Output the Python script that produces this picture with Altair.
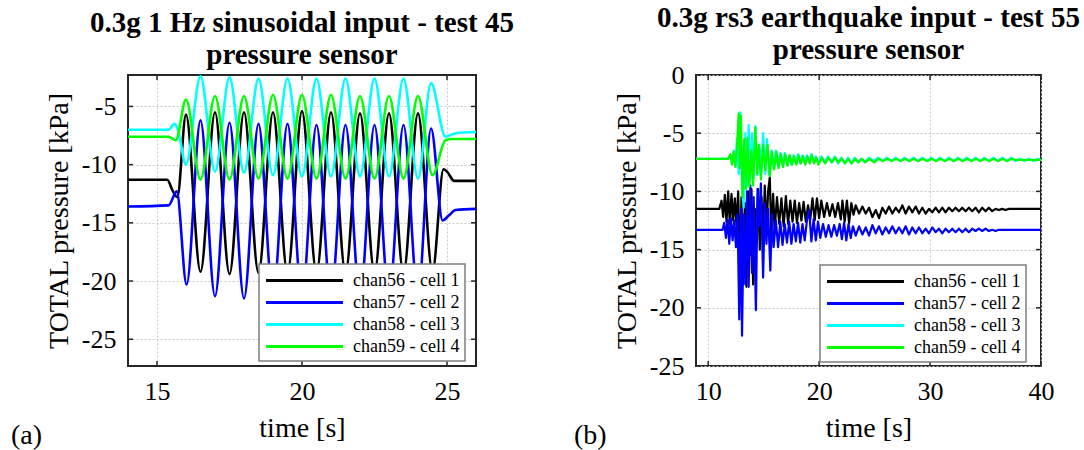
import altair as alt
import pandas as pd

FONT = "Liberation Serif"
INK = "#262626"
SERIES = ["chan56 - cell 1", "chan57 - cell 2", "chan58 - cell 3", "chan59 - cell 4"]
COLORS = ["#000000", "#0000ff", "#00ffff", "#00ff00"]
PANEL_LABELS = ["(a)", "(b)"]

# ---------------- panel (a): sinusoidal input ----------------
A_TITLE = ["0.3g 1 Hz sinusoidal input - test 45", "pressure sensor"]
A_XDOM = [14, 26]
A_YDOM = [-27.3, -2.3]
A_XTICKS = [15, 20, 25]
A_YTICKS = [-25, -20, -15, -10, -5]

A_CH56 = [(14.0,-11.3),(15.35,-11.3),(15.55,-12.3),(15.7,-12.8),(16.0,-5.7),(16.5,-19.2),(17.0,-5.5),(17.5,-19.4),
          (18.0,-5.5),(18.5,-19.3),(19.0,-5.5),(19.5,-19.3),(20.0,-5.4),(20.5,-19.3),(21.0,-5.5),(21.5,-19.3),
          (22.0,-5.6),(22.5,-19.3),(23.0,-5.6),(23.5,-19.3),(24.0,-5.6),(24.5,-19.2),(24.88,-10.4),(25.0,-10.6),
          (25.25,-11.4),(26.0,-11.4)]
A_CH57 = [(14.0,-13.6),(15.4,-13.5),(15.68,-12.3),(16.02,-20.3),(16.5,-6.2),(17.0,-21.3),(17.5,-6.4),(18.0,-21.5),
          (18.5,-6.5),(19.0,-21.3),(19.5,-6.5),(20.0,-21.3),(20.5,-6.6),(21.0,-21.3),(21.5,-6.6),(22.0,-21.3),
          (22.5,-6.6),(23.0,-21.3),(23.5,-6.6),(24.0,-21.2),(24.45,-6.9),(24.85,-14.8),(25.05,-14.4),(25.3,-13.9),
          (26.0,-13.8)]
A_CH58 = [(14.0,-7.0),(15.4,-7.0),(15.6,-6.5),(15.72,-7.0),(16.0,-10.0),(16.5,-2.4),(17.0,-10.6),(17.5,-2.5),
          (18.0,-10.7),(18.5,-2.6),(19.0,-10.9),(19.5,-2.6),(20.0,-11.0),(20.5,-2.6),(21.0,-11.0),(21.5,-2.6),
          (22.0,-11.0),(22.5,-2.6),(23.0,-11.0),(23.5,-2.6),(24.0,-11.2),(24.45,-3.0),(24.95,-7.6),(25.3,-7.3),
          (26.0,-7.2)]
A_CH59 = [(14.0,-7.6),(15.4,-7.6),(15.65,-7.9),(16.0,-4.4),(16.5,-11.3),(17.0,-4.1),(17.5,-11.3),(18.0,-4.1),
          (18.5,-11.2),(19.0,-4.0),(19.5,-11.2),(20.0,-4.0),(20.5,-11.2),(21.0,-4.0),(21.5,-11.2),(22.0,-4.1),
          (22.5,-11.2),(23.0,-4.1),(23.5,-11.2),(24.0,-4.1),(24.5,-10.9),(24.95,-7.9),(25.2,-7.8),(26.0,-7.8)]

# ---------------- panel (b): earthquake input ----------------
B_TITLE = ["0.3g rs3 earthquake input - test 55", "pressure sensor"]
B_XDOM = [8.9, 40]
B_YDOM = [-25, 0]
B_XTICKS = [10, 20, 30, 40]
B_YTICKS = [-25, -20, -15, -10, -5, 0]

B_CH56 = [(8.9,-11.5),(11.0,-11.5),(11.2,-10.8),(11.35,-12.2),(11.5,-10.3),(11.65,-12.6),(11.8,-10.0),(11.95,-12.8),
          (12.1,-10.2),(12.25,-12.5),(12.4,-10.6),(12.55,-12.9),(12.7,-10.0),(12.85,-16.0),(13.0,-10.5),(13.15,-18.0),
          (13.3,-11.0),(13.45,-18.2),(13.6,-10.0),(13.75,-15.5),(13.9,-9.8),(14.05,-18.0),(14.2,-11.5),(14.35,-14.5),
          (14.5,-9.8),(14.65,-15.0),(14.8,-10.5),(14.95,-14.0),(15.1,-9.5),(15.25,-13.5),(15.4,-10.0),(15.55,-8.8),
          (15.7,-14.0),(15.85,-10.2),(16.0,-13.2),(16.2,-10.5),(16.4,-12.8),(16.6,-10.6),(16.8,-13.0),(17.0,-10.4),
          (17.2,-12.8),(17.4,-10.8),(17.6,-12.6),(17.8,-10.8),(18.0,-12.7),(18.2,-11.0),(18.4,-12.5),(18.6,-10.9),
          (18.8,-12.6),(19.0,-11.2),(19.2,-12.4),(19.4,-10.6),(19.6,-12.5),(19.8,-10.6),(20.0,-12.3),(20.2,-10.8),
          (20.45,-12.2),(20.7,-11.0),(20.95,-12.1),(21.2,-11.1),(21.45,-12.2),(21.7,-11.0),(21.95,-12.4),(22.1,-10.8),
          (22.3,-12.6),(22.5,-10.8),(22.7,-12.7),(22.9,-11.0),(23.1,-12.0),(23.3,-11.2),(23.6,-11.9),(23.9,-11.3),
          (24.2,-11.9),(24.5,-11.4),(24.8,-12.2),(25.1,-11.6),(25.4,-12.3),(25.7,-11.4),(26.0,-11.9),(26.3,-11.3),
          (26.6,-11.9),(26.9,-11.4),(27.2,-11.8),(27.5,-11.2),(27.8,-11.9),(28.1,-11.3),(28.4,-11.8),(28.7,-11.3),
          (29.0,-11.9),(29.3,-11.4),(29.6,-11.9),(29.9,-11.5),(30.2,-11.8),(30.5,-11.4),(30.8,-11.8),(31.1,-11.4),
          (31.4,-11.8),(31.7,-11.4),(32.0,-11.7),(32.3,-11.4),(32.6,-11.7),(32.9,-11.4),(33.2,-11.7),(33.5,-11.4),
          (33.8,-11.7),(34.1,-11.4),(34.4,-11.8),(34.7,-11.4),(35.0,-11.7),(35.3,-11.4),(35.6,-11.7),(35.9,-11.5),
          (36.2,-11.6),(36.5,-11.5),(36.8,-11.6),(37.1,-11.5),(40.0,-11.5)]
B_CH57 = [(8.9,-13.3),(11.3,-13.3),(11.45,-12.7),(11.6,-14.0),(11.75,-12.4),(11.9,-14.5),(12.05,-12.3),(12.2,-14.2),
          (12.35,-12.5),(12.5,-14.8),(12.65,-12.0),(12.8,-21.0),(12.95,-11.5),(13.05,-22.4),(13.2,-12.0),(13.35,-18.0),
          (13.5,-10.0),(13.65,-18.2),(13.8,-9.5),(13.95,-17.0),(14.1,-10.5),(14.3,-20.2),(14.45,-9.8),(14.6,-13.0),
          (14.75,-9.3),(14.95,-17.4),(15.1,-11.0),(15.25,-14.5),(15.4,-11.5),(15.6,-16.8),(15.75,-12.0),(15.9,-14.8),
          (16.1,-12.5),(16.3,-14.8),(16.5,-12.6),(16.7,-14.6),(16.9,-12.8),(17.1,-14.4),(17.3,-12.6),(17.5,-14.5),
          (17.7,-12.8),(17.9,-14.3),(18.1,-12.7),(18.3,-14.4),(18.5,-12.8),(18.7,-14.2),(18.9,-12.5),(19.1,-11.6),
          (19.3,-14.3),(19.5,-12.4),(19.7,-14.2),(19.9,-12.6),(20.1,-14.0),(20.35,-12.8),(20.6,-13.9),(20.85,-12.9),
          (21.1,-13.9),(21.35,-12.9),(21.6,-13.8),(21.85,-12.8),(22.05,-14.1),(22.25,-12.7),(22.45,-14.2),(22.65,-12.8),
          (22.85,-14.0),(23.05,-13.0),(23.3,-13.8),(23.6,-13.0),(23.9,-13.7),(24.2,-13.1),(24.5,-13.8),(24.8,-12.9),
          (25.1,-13.6),(25.4,-13.0),(25.7,-13.7),(26.0,-13.1),(26.3,-13.6),(26.6,-13.0),(26.9,-13.6),(27.2,-13.1),
          (27.5,-13.6),(27.8,-13.0),(28.1,-13.7),(28.4,-13.1),(28.7,-13.6),(29.0,-13.1),(29.3,-13.6),(29.6,-13.2),
          (29.9,-13.6),(30.2,-13.1),(30.5,-13.5),(30.8,-13.2),(31.1,-13.6),(31.4,-13.2),(31.7,-13.5),(32.0,-13.2),
          (32.3,-13.5),(32.6,-13.2),(32.9,-13.5),(33.2,-13.2),(33.5,-13.5),(33.8,-13.2),(34.1,-13.4),(34.4,-13.2),
          (34.7,-13.4),(35.0,-13.2),(35.3,-13.4),(35.6,-13.3),(35.9,-13.4),(36.2,-13.3),(36.8,-13.3),(40.0,-13.3)]
B_CH58 = [(8.9,-7.2),(11.8,-7.2),(12.0,-6.9),(12.15,-7.6),(12.3,-6.5),(12.45,-7.8),(12.6,-5.5),(12.75,-8.5),
          (12.9,-3.2),(13.05,-9.8),(13.2,-11.4),(13.35,-5.0),(13.5,-9.5),(13.65,-4.3),(13.8,-9.0),(13.95,-5.0),
          (14.1,-8.8),(14.25,-4.4),(14.45,-8.6),(14.6,-6.0),(14.8,-8.2),(14.95,-5.0),(15.15,-8.5),(15.3,-5.5),
          (15.5,-8.6),(15.7,-6.5),(15.9,-8.0),(16.1,-6.5),(16.3,-7.9),(16.5,-6.7),(16.7,-7.8),(16.9,-6.7),
          (17.1,-7.7),(17.3,-6.9),(17.5,-7.7),(17.7,-6.9),(17.9,-7.6),(18.1,-6.8),(18.3,-7.6),(18.5,-6.9),
          (18.7,-7.5),(18.9,-6.9),(19.1,-7.5),(19.3,-6.8),(19.5,-7.5),(19.7,-7.0),(19.9,-7.6),(20.2,-7.0),
          (20.5,-7.5),(20.8,-7.0),(21.1,-7.5),(21.4,-7.0),(21.7,-7.6),(22.0,-7.1),(22.3,-7.6),(22.6,-7.1),
          (22.9,-7.6),(23.2,-7.1),(23.5,-7.5),(23.8,-7.2),(24.1,-7.5),(24.5,-7.1),(24.9,-7.4),(25.3,-7.1),
          (25.7,-7.4),(26.1,-7.1),(26.5,-7.4),(26.9,-7.1),(27.3,-7.4),(27.7,-7.1),(28.1,-7.4),(28.5,-7.1),
          (28.9,-7.4),(29.3,-7.1),(29.7,-7.4),(30.1,-7.1),(30.5,-7.4),(30.9,-7.1),(31.3,-7.4),(31.7,-7.1),
          (32.1,-7.4),(32.5,-7.1),(32.9,-7.4),(33.3,-7.1),(33.7,-7.4),(34.1,-7.1),(34.5,-7.4),(34.9,-7.1),
          (35.3,-7.4),(35.7,-7.1),(36.1,-7.4),(36.5,-7.1),(36.9,-7.4),(37.3,-7.1),(37.7,-7.4),(38.1,-7.2),
          (38.5,-7.4),(38.9,-7.2),(39.3,-7.4),(39.7,-7.2),(40.0,-7.3)]
B_CH59 = [(8.9,-7.2),(11.8,-7.2),(12.0,-6.8),(12.15,-7.7),(12.3,-6.6),(12.45,-7.9),(12.6,-6.0),(12.75,-3.3),
          (12.85,-8.0),(12.95,-3.5),(13.1,-10.5),(13.25,-5.5),(13.4,-9.8),(13.55,-5.4),(13.7,-9.6),(13.9,-6.5),
          (14.05,-9.5),(14.25,-4.5),(14.4,-8.5),(14.55,-6.0),(14.75,-9.0),(14.95,-6.0),(15.15,-8.2),(15.35,-6.0),
          (15.55,-8.7),(15.75,-6.6),(15.95,-8.1),(16.15,-6.6),(16.35,-8.0),(16.55,-6.8),(16.75,-7.9),(16.95,-6.8),
          (17.15,-7.8),(17.35,-6.9),(17.55,-7.7),(17.75,-7.0),(17.95,-7.7),(18.15,-6.9),(18.35,-7.6),(18.55,-7.0),
          (18.75,-7.7),(18.95,-7.0),(19.15,-7.6),(19.35,-6.9),(19.55,-7.6),(19.75,-7.1),(19.95,-7.7),(20.25,-7.1),
          (20.55,-7.6),(20.85,-7.1),(21.15,-7.5),(21.45,-7.1),(21.75,-7.5),(22.05,-7.2),(22.35,-7.6),(22.65,-7.2),
          (22.95,-7.6),(23.25,-7.2),(23.55,-7.5),(23.85,-7.2),(24.15,-7.5),(24.55,-7.2),(24.95,-7.5),(25.35,-7.2),
          (25.75,-7.4),(26.15,-7.2),(26.55,-7.4),(26.95,-7.2),(27.35,-7.4),(27.75,-7.2),(28.15,-7.4),(28.55,-7.2),
          (28.95,-7.4),(29.35,-7.2),(29.75,-7.4),(30.15,-7.2),(30.55,-7.4),(30.95,-7.2),(31.35,-7.4),(31.75,-7.2),
          (32.15,-7.4),(32.55,-7.2),(32.95,-7.4),(33.35,-7.2),(33.75,-7.4),(34.15,-7.2),(34.55,-7.4),(34.95,-7.2),
          (35.35,-7.4),(35.75,-7.2),(36.15,-7.4),(36.55,-7.2),(36.95,-7.4),(37.35,-7.2),(37.75,-7.3),(38.5,-7.3),
          (40.0,-7.3)]


def to_frame(series_points):
    rows = []
    for name, pts in zip(SERIES, series_points):
        for t, p in pts:
            rows.append({"t": t, "p": p, "series": name})
    return pd.DataFrame(rows)


def panel(df, title, xdom, ydom, xticks, yticks, w, h, interp, lw, leg_x, leg_y, lab, lab_x, lab_y, toff):
    color = alt.Color(
        "series:N",
        scale=alt.Scale(domain=SERIES, range=COLORS),
        legend=alt.Legend(
            title=None, orient="none", legendX=leg_x, legendY=leg_y,
            symbolType="M-4,0H4", symbolSize=370, symbolStrokeWidth=3,
            symbolOffset=29, labelOffset=37,
            labelFont=FONT, labelFontSize=18, labelColor="black",
            fillColor="white", strokeColor="#7f7f7f", padding=5, rowPadding=1,
            zindex=5,
        ),
    )
    common = dict(grid=True, domain=False, ticks=False, labelExpr="datum.value + ''", labelFlush=False,
                  labelFont=FONT, labelFontSize=26, labelColor="black",
                  titleFont=FONT, titleFontSize=28, titleFontWeight="normal", titleColor="black",
                  gridColor="#c8c8c8", gridDash=[2, 2], gridWidth=1)
    xenc = alt.X(
        "t:Q",
        scale=alt.Scale(domain=xdom, nice=False, zero=False),
        axis=alt.Axis(values=xticks, title="time [s]", labelPadding=12, titlePadding=10, **common),
    )
    yenc = alt.Y(
        "p:Q",
        scale=alt.Scale(domain=ydom, nice=False, zero=False),
        axis=alt.Axis(values=yticks, title="TOTAL pressure [kPa]", labelPadding=12, titlePadding=8, **common),
    )
    layers = []
    for name in SERIES:
        layers.append(
            alt.Chart(df)
            .transform_filter(alt.datum.series == name)
            .mark_line(interpolate=interp, strokeWidth=lw, clip=True, strokeJoin="round")
            .encode(x=xenc, y=yenc, color=color)
        )
    xt = pd.DataFrame({"t": xticks})
    yt = pd.DataFrame({"p": yticks})
    tick = dict(color=INK, strokeWidth=1.5)
    layers.append(alt.Chart(xt).mark_rule(**tick).encode(x="t:Q", y=alt.value(h), y2=alt.value(h - 5)))
    layers.append(alt.Chart(xt).mark_rule(**tick).encode(x="t:Q", y=alt.value(0), y2=alt.value(5)))
    layers.append(alt.Chart(yt).mark_rule(**tick).encode(y="p:Q", x=alt.value(0), x2=alt.value(5)))
    layers.append(alt.Chart(yt).mark_rule(**tick).encode(y="p:Q", x=alt.value(w), x2=alt.value(w - 5)))
    layers.append(
        alt.Chart(pd.DataFrame({"lab": [lab]}))
        .mark_text(font=FONT, fontSize=28, align="left", baseline="middle", color="black")
        .encode(x=alt.value(lab_x), y=alt.value(lab_y), text="lab:N")
    )
    return alt.layer(*layers).properties(
        width=w, height=h,
        title=alt.TitleParams(title, font=FONT, fontSize=29, fontWeight="bold", lineHeight=32,
                              anchor="middle", color="black", offset=toff),
    )


left = panel(to_frame([A_CH56, A_CH57, A_CH58, A_CH59]), A_TITLE, A_XDOM, A_YDOM, A_XTICKS, A_YTICKS,
             348, 291, "monotone", 2.6, 131, 189, PANEL_LABELS[0], -117, 361, 4)
right = panel(to_frame([B_CH56, B_CH57, B_CH58, B_CH59]), B_TITLE, B_XDOM, B_YDOM, B_XTICKS, B_YTICKS,
              345, 291, "linear", 2.2, 124, 190, PANEL_LABELS[1], -122, 361, -3)

chart = (
    alt.hconcat(left, right, spacing=58)
    .resolve_scale(color="independent", x="independent", y="independent")
    .resolve_legend(color="independent")
    .properties(padding={"left": 10, "top": 3, "right": 2, "bottom": 2})
    .configure_view(stroke=INK, strokeWidth=2)
    .configure_legend(strokeWidth=1.5)
)

chart.save("out.html", embed_options={"renderer": "svg", "actions": False})
